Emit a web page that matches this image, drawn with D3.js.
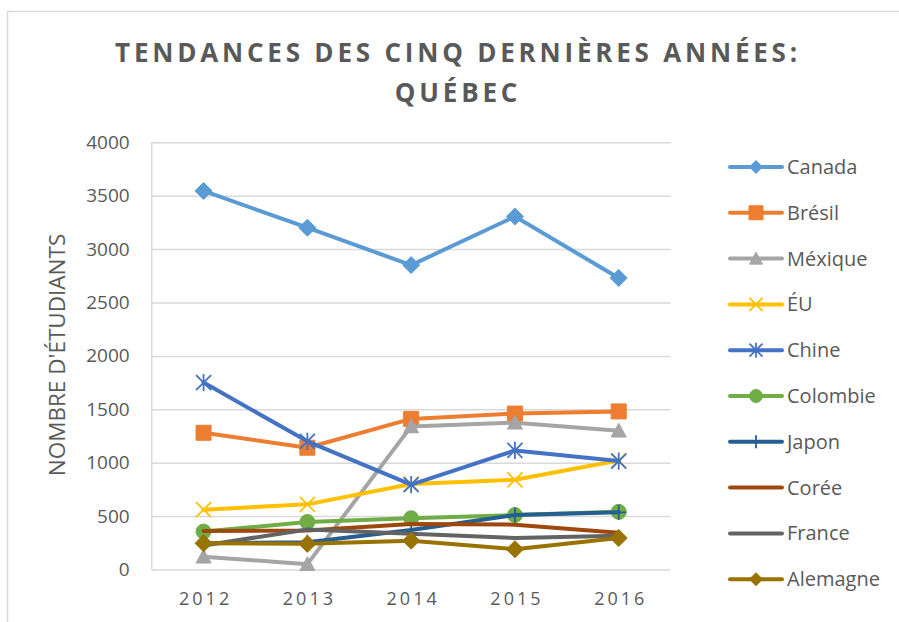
<!DOCTYPE html>
<html>
<head>
<meta charset="utf-8">
<script src="https://cdn.jsdelivr.net/npm/d3@7"></script>
<style>
	body { margin: 0; background: #fff; }
	text { font-family: 'Open Sans', sans-serif; fill: #595959; }
</style>
</head>
<body>
<script>
// DATA
const years = ['2012', '2013', '2014', '2015', '2016'];
const yTicks = [0, 500, 1000, 1500, 2000, 2500, 3000, 3500, 4000];
const countries = ['Canada', 'Brésil', 'Méxique', 'ÉU', 'Chine', 'Colombie', 'Japon', 'Corée', 'France', 'Alemagne'];
const canada = [3545, 3200, 2850, 3305, 2730];
const bresil = [1280, 1140, 1410, 1460, 1480];
const mexique = [120, 50, 1340, 1375, 1300];
const eu = [560, 610, 800, 840, 1020];
const chine = [1750, 1200, 795, 1115, 1015];
const colombie = [355, 445, 480, 510, 540];
const japon = [245, 255, 370, 510, 535];
const coree = [360, 365, 425, 420, 345];
const france = [225, 375, 335, 295, 315];
const alemagne = [245, 240, 270, 190, 295];

const seriesValues = [canada, bresil, mexique, eu, chine, colombie, japon, coree, france, alemagne];
const colors = ['#5B9BD5', '#ED7D31', '#A5A5A5', '#FFC000', '#4472C4', '#70AD47', '#255E91', '#9E480E', '#636363', '#997300'];
const markers = ['diamond', 'square', 'triangle', 'x', 'star', 'circle', 'plus', 'none', 'none', 'diamond'];

// CONFIGURATION
const width = 899;
const height = 622;
const plot = { left: 151.7, right: 670.6, top: 142.3, bottom: 569.5 };

const svg = d3.select('body')
	.append('svg')
	.attr('width', width)
	.attr('height', height);

// chart border (only top and left visible)
svg.append('rect')
	.attr('x', 7.5)
	.attr('y', 11.5)
	.attr('width', 1000)
	.attr('height', 1000)
	.attr('fill', 'none')
	.attr('stroke', '#d9d9d9')
	.attr('stroke-width', 1.5);

// TITLE
const title = svg.append('text')
	.attr('text-anchor', 'middle')
	.style('font-size', '26px')
	.style('font-weight', 'bold')
	.style('letter-spacing', '3.8px');
title.append('tspan').attr('x', 458).attr('y', 62).text('TENDANCES DES CINQ DERNIÈRES ANNÉES:');
title.append('tspan').attr('x', 458).attr('y', 102).text('QUÉBEC');

// SCALES
const xScale = d3.scalePoint()
	.domain(years)
	.range([plot.left, plot.right])
	.padding(0.5);
const yScale = d3.scaleLinear()
	.domain([0, 4000])
	.range([plot.bottom, plot.top]);

// GRID
const yAxis = d3.axisLeft(yScale)
	.tickValues(yTicks)
	.tickSize(-(plot.right - plot.left))
	.tickPadding(22)
	.tickFormat(d => d);
const gy = svg.append('g')
	.attr('transform', `translate(${plot.left}, 0)`)
	.call(yAxis);
gy.select('.domain').remove();
gy.selectAll('line').attr('stroke', '#d9d9d9').attr('stroke-width', 1.5);
gy.selectAll('text')
	.style('font-size', '19px')
	.style('fill', '#595959')
	.attr('font-family', null);

svg.append('line')
	.attr('x1', plot.left).attr('x2', plot.left)
	.attr('y1', plot.top).attr('y2', plot.bottom)
	.attr('stroke', '#d9d9d9')
	.attr('stroke-width', 1.5);

const xAxis = d3.axisBottom(xScale).tickSize(0).tickPadding(0);
const gx = svg.append('g')
	.attr('transform', `translate(0, ${plot.bottom})`)
	.call(xAxis);
gx.select('.domain').remove();
gx.selectAll('text')
	.attr('dy', null)
	.attr('y', 35)
	.attr('dx', 1.5)
	.style('font-size', '18px')
	.style('letter-spacing', '3px')
	.style('fill', '#595959')
	.attr('font-family', null);

// Y LABEL
svg.append('text')
	.attr('transform', 'translate(65, 355) rotate(-90)')
	.attr('text-anchor', 'middle')
	.style('font-size', '22.5px')
	.text("NOMBRE D'ÉTUDIANTS");

// MARKERS
function markerPath(type, r) {
	switch (type) {
		case 'diamond': return `M0,${-r}L${r},0L0,${r}L${-r},0Z`;
		case 'square': return `M${-r},${-r}H${r}V${r}H${-r}Z`;
		case 'triangle': return `M0,${-r}L${r},${r * 0.85}L${-r},${r * 0.85}Z`;
		case 'circle': return `M${r},0A${r},${r} 0 1,1 ${-r},0A${r},${r} 0 1,1 ${r},0Z`;
		case 'x': return `M${-r},${-r}L${r},${r}M${r},${-r}L${-r},${r}`;
		case 'star': return `M${-r},${-r}L${r},${r}M${r},${-r}L${-r},${r}M0,${-r * 1.15}V${r * 1.15}`;
		case 'plus': return `M0,${-r}V${r}M${-r},0H${r}`;
		default: return '';
	}
}
const isOpen = type => type === 'x' || type === 'star' || type === 'plus';

function drawMarker(g, type, color, r) {
	if (type === 'none') return;
	g.append('path')
		.attr('d', markerPath(type, r))
		.attr('fill', isOpen(type) ? 'none' : color)
		.attr('stroke', color)
		.attr('stroke-width', isOpen(type) ? 1.8 : 1);
}

// LINES
const line = d3.line()
	.x((d, i) => xScale(years[i]))
	.y(d => yScale(d));

seriesValues.forEach((values, s) => {
	const g = svg.append('g');
	g.append('path')
		.datum(values)
		.attr('d', line)
		.attr('fill', 'none')
		.attr('stroke', colors[s])
		.attr('stroke-width', 4)
		.attr('stroke-linejoin', 'round')
		.attr('stroke-linecap', 'round');
	const r = markers[s] === 'diamond' ? 8.5 : 7.5;
	values.forEach((v, i) => {
		const mg = g.append('g').attr('transform', `translate(${xScale(years[i])}, ${yScale(v)})`);
		drawMarker(mg, markers[s], colors[s], r);
	});
});

// LEGEND
const legend = svg.append('g');
countries.forEach((name, s) => {
	const y = 167 + s * 45.8;
	const g = legend.append('g').attr('transform', `translate(0, ${y})`);
	g.append('line')
		.attr('x1', 730).attr('x2', 782)
		.attr('y1', 0).attr('y2', 0)
		.attr('stroke', colors[s])
		.attr('stroke-width', 4)
		.attr('stroke-linecap', 'round');
	const mg = g.append('g').attr('transform', 'translate(756, 0)');
	drawMarker(mg, markers[s], colors[s], markers[s] === 'square' ? 7 : 6.5);
	g.append('text')
		.attr('x', 787)
		.attr('y', 7)
		.style('font-size', '20px')
		.text(name);
});
</script>
</body>
</html>
